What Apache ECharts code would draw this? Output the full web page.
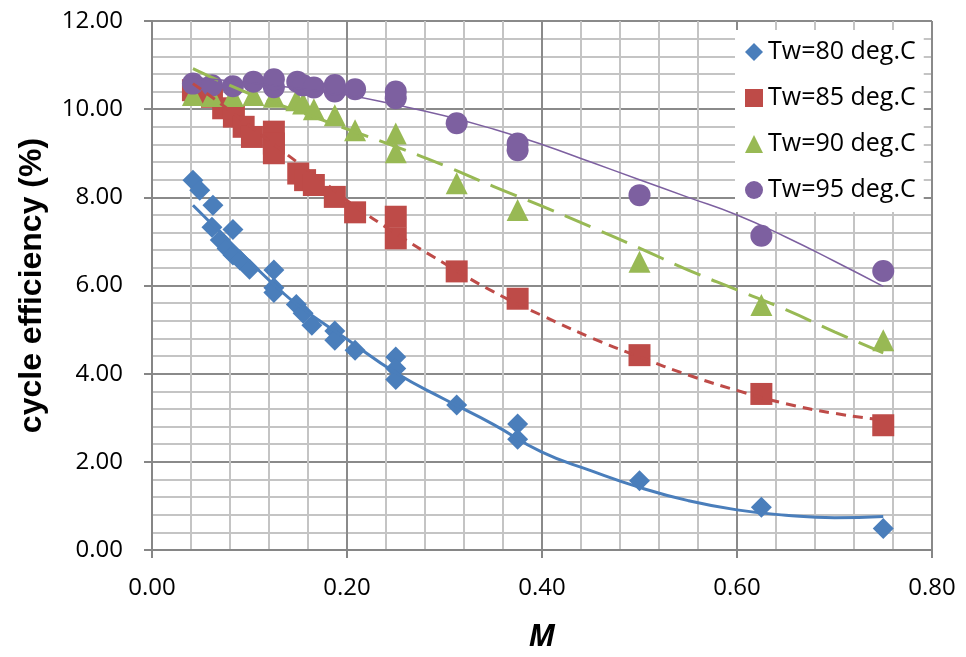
<!DOCTYPE html>
<html>
<head>
<meta charset="utf-8">
<script src="https://cdn.jsdelivr.net/npm/echarts@6/dist/echarts.min.js"></script>
<style>
html,body{margin:0;padding:0;background:#fff;}
#chart{width:966px;height:657px;}
</style>
</head>
<body>
<div id="chart"></div>
<script>
// ---- data ----
var seriesNames = ['Tw=80 deg.C', 'Tw=85 deg.C', 'Tw=90 deg.C', 'Tw=95 deg.C'];

var tw80 = [
  [0.042, 8.39], [0.049, 8.16], [0.0625, 7.82], [0.0615, 7.32], [0.083, 7.27],
  [0.070, 7.03], [0.077, 6.84], [0.083, 6.69], [0.090, 6.58], [0.100, 6.37],
  [0.125, 6.35], [0.125, 5.95], [0.125, 5.84], [0.148, 5.57], [0.155, 5.37],
  [0.164, 5.10], [0.1875, 4.97], [0.1875, 4.76], [0.2083, 4.53], [0.25, 4.38],
  [0.25, 4.12], [0.25, 3.87], [0.3125, 3.29], [0.375, 2.86], [0.375, 2.51],
  [0.50, 1.57], [0.625, 0.97], [0.75, 0.49]
];
var tw85 = [
  [0.042, 10.43], [0.0615, 10.28], [0.073, 10.02], [0.084, 9.83], [0.094, 9.60],
  [0.1025, 9.37], [0.125, 9.49], [0.125, 9.22], [0.125, 9.00], [0.150, 8.54],
  [0.157, 8.39], [0.166, 8.28], [0.1875, 8.01], [0.2083, 7.66], [0.25, 7.56],
  [0.25, 7.07], [0.3125, 6.32], [0.375, 5.70], [0.50, 4.42], [0.625, 3.54],
  [0.75, 2.83]
];
var tw90 = [
  [0.042, 10.32], [0.0615, 10.30], [0.083, 10.30], [0.104, 10.32], [0.125, 10.28],
  [0.148, 10.20], [0.155, 10.13], [0.166, 10.00], [0.1875, 9.86], [0.2083, 9.52],
  [0.25, 9.45], [0.25, 9.02], [0.3125, 8.32], [0.375, 7.71], [0.50, 6.54],
  [0.625, 5.56], [0.75, 4.76]
];
var tw95 = [
  [0.042, 10.58], [0.0615, 10.54], [0.083, 10.52], [0.104, 10.62], [0.125, 10.50],
  [0.125, 10.68], [0.149, 10.62], [0.155, 10.54], [0.166, 10.49], [0.1875, 10.40],
  [0.1875, 10.55], [0.2083, 10.45], [0.25, 10.25], [0.25, 10.40], [0.3125, 9.68],
  [0.375, 9.07], [0.375, 9.22], [0.50, 8.05], [0.625, 7.13], [0.75, 6.33]
];

// trend lines
var trend80 = [
  [0.042, 7.82], [0.10, 6.55], [0.125, 6.02], [0.15, 5.55], [0.20, 4.78], [0.25, 4.02],
  [0.30, 3.42], [0.35, 2.85], [0.40, 2.22], [0.45, 1.80], [0.50, 1.42], [0.55, 1.12],
  [0.60, 0.91], [0.65, 0.79], [0.70, 0.73], [0.75, 0.76]
];
var trend85 = [
  [0.042, 10.58], [0.075, 10.05], [0.10, 9.62], [0.125, 9.20], [0.15, 8.78], [0.175, 8.37],
  [0.20, 7.93], [0.25, 7.18], [0.30, 6.50], [0.35, 5.86], [0.40, 5.32], [0.45, 4.82],
  [0.50, 4.38], [0.55, 3.97], [0.60, 3.62], [0.65, 3.32], [0.70, 3.10], [0.75, 2.95]
];
var trend90 = [
  [0.042, 10.92], [0.10, 10.35], [0.15, 9.95], [0.20, 9.55], [0.25, 9.15], [0.30, 8.72],
  [0.35, 8.25], [0.40, 7.80], [0.45, 7.33], [0.50, 6.85], [0.55, 6.35], [0.60, 5.90],
  [0.65, 5.45], [0.70, 4.95], [0.75, 4.47]
];
var trend95 = [
  [0.042, 10.72], [0.10, 10.60], [0.15, 10.47], [0.20, 10.32], [0.25, 10.10], [0.30, 9.85],
  [0.35, 9.55], [0.40, 9.20], [0.45, 8.80], [0.50, 8.40], [0.55, 8.00], [0.60, 7.60],
  [0.65, 7.10], [0.70, 6.55], [0.75, 5.98]
];

var colors = ['#4A7EBB', '#BE4B48', '#98B954', '#7D60A0'];
var symbols = ['diamond', 'rect', 'triangle', 'circle'];
var symbolSizes = [21, 22, 22, 22];

var chart = echarts.init(document.getElementById('chart'), null, {renderer: 'canvas'});

var scatterData = [tw80, tw85, tw90, tw95];
var trendData = [trend80, trend85, trend90, trend95];
var trendStyles = [
  {type: 'solid', width: 3},
  {type: [10, 7], width: 3},
  {type: [28, 12], width: 3},
  {type: 'solid', width: 1.5}
];

var series = [];
for (var i = 0; i < 4; i++) {
  series.push({
    name: seriesNames[i],
    type: 'scatter',
    data: scatterData[i],
    symbol: symbols[i],
    symbolSize: symbolSizes[i],
    itemStyle: {color: colors[i], opacity: 1},
    z: 2 + i * 0.1,
    animation: false
  });
}
for (var j = 0; j < 4; j++) {
  series.push({
    name: 'trend' + j,
    type: 'line',
    data: trendData[j],
    smooth: true,
    showSymbol: false,
    symbol: 'none',
    lineStyle: {color: colors[j], width: trendStyles[j].width, type: trendStyles[j].type, cap: 'butt'},
    z: 5,
    silent: true,
    animation: false
  });
}

var axisFont = 'Open Sans';

chart.setOption({
  animation: false,
  backgroundColor: '#ffffff',
  grid: {left: 152, right: 34, top: 21, bottom: 107, containLabel: false},
  legend: {
    data: seriesNames.map(function (n, k) { return {name: n, icon: symbols[k]}; }),
    orient: 'vertical',
    left: 735,
    top: 30,
    padding: [8, 8, 8, 10],
    itemWidth: 18,
    itemHeight: 18,
    itemGap: 18,
    backgroundColor: '#ffffff',
    textStyle: {fontFamily: axisFont, fontSize: 25, color: '#000', lineHeight: 28}
  },
  xAxis: {
    type: 'value',
    min: 0, max: 0.8, interval: 0.2,
    name: 'M',
    nameLocation: 'middle',
    nameGap: 72,
    nameTextStyle: {fontFamily: axisFont, fontSize: 30, fontWeight: 'bold', fontStyle: 'italic', color: '#000'},
    axisLine: {show: true, onZero: false, lineStyle: {color: '#868686', width: 2}},
    axisTick: {show: true, length: 8, lineStyle: {color: '#868686', width: 2}},
    axisLabel: {fontFamily: axisFont, fontSize: 24, color: '#000', margin: 26,
      formatter: function (v) { return v.toFixed(2); }},
    splitLine: {show: true, lineStyle: {color: '#8a8a8a', width: 2}},
    minorTick: {show: false, splitNumber: 5},
    minorSplitLine: {show: true, lineStyle: {color: '#c4c4c4', width: 2}}
  },
  yAxis: {
    type: 'value',
    min: 0, max: 12, interval: 2,
    name: 'cycle efficiency (%)',
    nameLocation: 'middle',
    nameGap: 104,
    nameTextStyle: {fontFamily: 'Liberation Sans', fontSize: 32, fontWeight: 'bold', color: '#000'},
    axisLine: {show: true, lineStyle: {color: '#868686', width: 2}},
    axisTick: {show: true, length: 8, lineStyle: {color: '#868686', width: 2}},
    axisLabel: {fontFamily: axisFont, fontSize: 24, color: '#000', margin: 29,
      formatter: function (v) { return v.toFixed(2); }},
    splitLine: {show: true, lineStyle: {color: '#8a8a8a', width: 2}},
    minorTick: {show: false, splitNumber: 5},
    minorSplitLine: {show: true, lineStyle: {color: '#c4c4c4', width: 2}}
  },
  series: series
});
</script>
</body>
</html>
